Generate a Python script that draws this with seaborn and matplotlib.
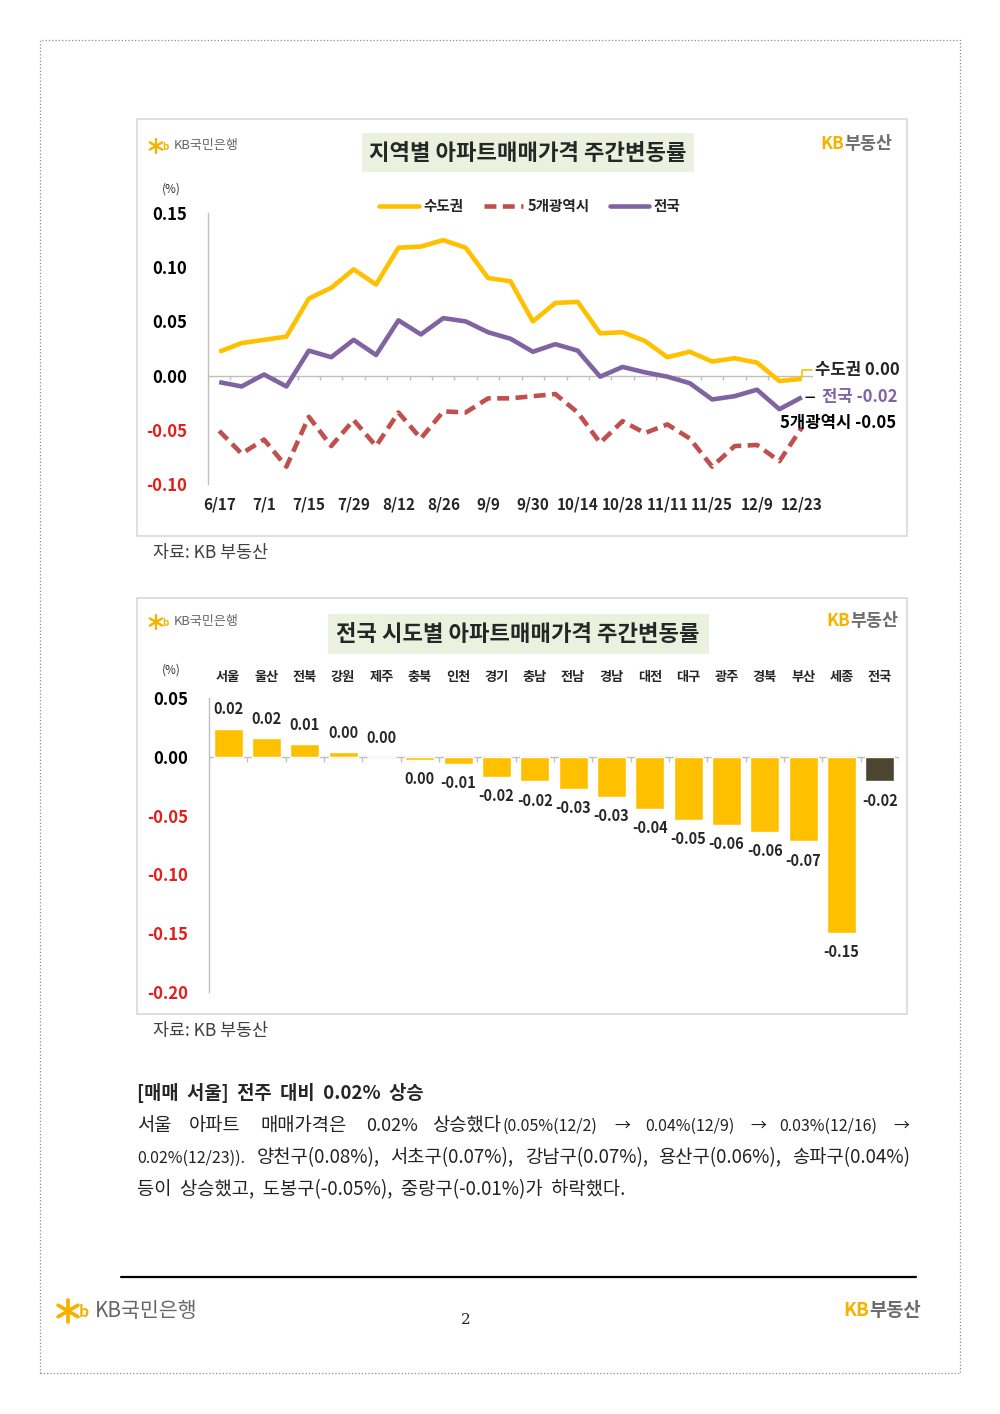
import numpy as np
import pandas as pd
import matplotlib
matplotlib.use("Agg")
import matplotlib.pyplot as plt
import seaborn as sns
from matplotlib.patches import Rectangle
from matplotlib.lines import Line2D
from matplotlib.transforms import blended_transform_factory

sns.set_theme(style="white")
plt.rcParams["font.family"] = ["Noto Sans CJK KR", "DejaVu Sans"]
plt.rcParams["axes.unicode_minus"] = False

# ---- 지역별 아파트매매가격 주간변동률 (%)
weeks = ["6/17", "6/24", "7/1", "7/8", "7/15", "7/22", "7/29", "8/5", "8/12", "8/19", "8/26", "9/2", "9/9",
         "9/23", "9/30", "10/7", "10/14", "10/21", "10/28", "11/4", "11/11", "11/18", "11/25", "12/2",
         "12/9", "12/16", "12/23"]
sudo = [0.022, 0.030, 0.033, 0.036, 0.071, 0.081, 0.098, 0.084, 0.118, 0.119, 0.125, 0.118, 0.090,
        0.087, 0.050, 0.067, 0.068, 0.039, 0.040, 0.032, 0.017, 0.022, 0.013, 0.016, 0.012, -0.005, -0.003]
metro5 = [-0.051, -0.072, -0.059, -0.084, -0.038, -0.065, -0.041, -0.065, -0.034, -0.058, -0.033, -0.034, -0.021,
          -0.021, -0.019, -0.017, -0.034, -0.062, -0.042, -0.053, -0.045, -0.058, -0.084, -0.065, -0.064, -0.079, -0.048]
nation = [-0.006, -0.010, 0.001, -0.010, 0.023, 0.017, 0.033, 0.019, 0.051, 0.038, 0.053, 0.050, 0.040,
          0.034, 0.022, 0.029, 0.023, -0.001, 0.008, 0.003, -0.001, -0.007, -0.022, -0.019, -0.013, -0.031, -0.020]
series_names = ["수도권", "5개광역시", "전국"]
end_labels = ["수도권 0.00", "5개광역시 -0.05", "전국 -0.02"]

# ---- 전국 시도별 아파트매매가격 주간변동률 (%)
regions = ["서울", "울산", "전북", "강원", "제주", "충북", "인천", "경기", "충남", "전남", "경남", "대전",
           "대구", "광주", "경북", "부산", "세종", "전국"]
region_vals = [0.024, 0.016, 0.011, 0.004, 0.000, -0.003, -0.006, -0.017, -0.021, -0.027, -0.034, -0.044,
               -0.054, -0.058, -0.064, -0.072, -0.150, -0.021]

YELLOW = "#FFC000"
RED = "#C0504D"
PURPLE = "#8064A2"
NEG_RED = "#E0201B"
GRID = "#BFBFBF"

W, H = 1000, 1414
fig = plt.figure(figsize=(W / 100, H / 100), dpi=100)
fig.patch.set_facecolor("white")


def fx(x):
    return x / W


def fy(y):
    return 1 - y / H


def ftext(x, y, s, **kw):
    fig.text(fx(x), fy(y), s, **kw)


def box(x0, y0, x1, y1, **kw):
    fig.add_artist(Rectangle((fx(x0), fy(y1)), (x1 - x0) / W, (y1 - y0) / H,
                             transform=fig.transFigure, **kw))


def kb_bank(x, y, size):
    # 별 모양 + KB국민은행
    r = size * 0.6
    for ang in (90, 30, 150):
        a = np.deg2rad(ang)
        fig.add_artist(Line2D([fx(x - r * np.cos(a)), fx(x + r * np.cos(a))],
                              [fy(y + r * np.sin(a)), fy(y - r * np.sin(a))],
                              transform=fig.transFigure, color="#F5B300", lw=size / 7))
    ftext(x + r * 0.9, y + 1, "b", color="#F5B300", fontsize=size * 0.6, ha="left", va="center",
          fontweight="bold")
    ftext(x + r * 2.4, y, "KB국민은행", color="#666666", fontsize=size * 0.78, ha="left", va="center")


def kb_land(x, y, size):
    ftext(x, y, "KB", color="#F5B300", fontsize=size, fontweight="bold", ha="left", va="center")
    ftext(x + size * 1.95, y, "부동산", color="#6D6D6D", fontsize=size, fontweight="bold", ha="left", va="center")


# 페이지 테두리
box(40, 40, 960, 1373, fill=False, ec="#8C8C8C", lw=0.9, ls=":")

# ================= 차트 1 =================
box(137, 119, 907, 536, fill=False, ec="#D9D9D9", lw=1.2)
box(362, 133, 694, 172, fc="#EBF1DE", ec="none")
ftext(528, 153, "지역별 아파트매매가격 주간변동률", fontsize=16, fontweight="bold", ha="center", va="center")
kb_bank(156, 146, 12)
kb_land(820, 144, 12.5)
ftext(171, 189, "(%)", fontsize=8.5, ha="center", va="center", color="#333333")

ax1 = fig.add_axes([fx(208), fy(484), (813 - 208) / W, (484 - 213) / H])
pos = np.arange(len(weeks))
df = pd.DataFrame({
    "pos": np.tile(pos, 3),
    "변동률": sudo + metro5 + nation,
    "지역": np.repeat(series_names, len(weeks)),
})
palette = {"수도권": YELLOW, "5개광역시": RED, "전국": PURPLE}
sns.lineplot(data=df, x="pos", y="변동률", hue="지역", style="지역", palette=palette,
             dashes={"수도권": "", "5개광역시": (2.6, 1.4), "전국": ""},
             linewidth=3.3, legend=False, ax=ax1, sort=False)
for ln in ax1.lines:
    ln.set_solid_capstyle("butt")

ax1.set_xlim(-0.5, len(weeks) - 0.5)
ax1.set_ylim(-0.10, 0.15)
ax1.set_xlabel("")
ax1.set_ylabel("")
for s in ("top", "right", "bottom"):
    ax1.spines[s].set_visible(False)
ax1.spines["left"].set_color(GRID)
ax1.spines["left"].set_linewidth(1)
ax1.axhline(0, color=GRID, lw=1, zorder=0)
ax1.vlines(np.arange(-0.5, len(weeks)), 0, -0.0045, color=GRID, lw=1, zorder=0)

ax1.set_xticks(pos[::2])
ax1.set_xticklabels(weeks[::2], fontsize=11, fontweight="bold")
ax1.tick_params(axis="x", length=0, pad=9)
yt1 = [-0.10, -0.05, 0.0, 0.05, 0.10, 0.15]
ax1.set_yticks(yt1)
ax1.set_yticklabels([f"{v:.2f}" for v in yt1], fontsize=12, fontweight="bold")
ax1.tick_params(axis="y", direction="in", length=3, color=GRID, pad=15)
for lab, v in zip(ax1.get_yticklabels(), yt1):
    lab.set_color(NEG_RED if v < 0 else "black")

# 범례
handles = [Line2D([], [], color=YELLOW, lw=3.3),
           Line2D([], [], color=RED, lw=3.3, dashes=(2.6, 1.4)),
           Line2D([], [], color=PURPLE, lw=3.3)]
fig.legend(handles, series_names, ncol=3, loc="center", bbox_to_anchor=(fx(530), fy(206)),
           frameon=False, handlelength=2.7, handletextpad=0.3, columnspacing=1.4,
           prop={"size": 10.5, "weight": "bold"})

# 끝점 라벨
last = len(weeks) - 1
ax1.annotate(end_labels[0], xy=(last, sudo[-1]), xytext=(9.5, 6.5), textcoords="offset points",
             ha="left", va="center", fontsize=12, fontweight="bold",
             arrowprops=dict(arrowstyle="-", color=YELLOW, lw=1.2, shrinkA=0, shrinkB=1,
                             connectionstyle="angle,angleA=0,angleB=90,rad=0"))
ax1.annotate(end_labels[2], xy=(last, nation[-1]), xytext=(14.5, 0), textcoords="offset points",
             ha="left", va="center", fontsize=12, fontweight="bold", color=PURPLE,
             arrowprops=dict(arrowstyle="-", color="black", lw=1, shrinkA=3, shrinkB=3))
ax1.annotate(end_labels[1], xy=(last, metro5[-1]), xytext=(-15.5, 3), textcoords="offset points",
             ha="left", va="center", fontsize=12, fontweight="bold", color="black")

ftext(153, 553, "자료: KB 부동산", fontsize=12.5, ha="left", va="center", color="#404040")

# ================= 차트 2 =================
box(137, 598, 907, 1014, fill=False, ec="#D9D9D9", lw=1.2)
box(328, 614, 709, 654, fc="#EBF1DE", ec="none")
ftext(518, 634, "전국 시도별 아파트매매가격 주간변동률", fontsize=16, fontweight="bold", ha="center", va="center")
kb_bank(156, 622, 12)
kb_land(826, 621, 12.5)
ftext(171, 670, "(%)", fontsize=8.5, ha="center", va="center", color="#333333")

ax2 = fig.add_axes([fx(209), fy(992), (899 - 209) / W, (992 - 698) / H])
bar_colors = [YELLOW] * (len(regions) - 1) + ["#4D4530"]
sns.barplot(x=regions, y=region_vals, hue=regions, palette=bar_colors, legend=False,
            width=0.76, saturation=1, ax=ax2)
ax2.set_xlim(-0.5, len(regions) - 0.5)
ax2.set_ylim(-0.20, 0.05)
for s in ("top", "right", "bottom"):
    ax2.spines[s].set_visible(False)
ax2.spines["left"].set_color(GRID)
ax2.spines["left"].set_linewidth(1)
ax2.axhline(0, color=GRID, lw=1, zorder=0)
ax2.vlines(np.arange(-0.5, len(regions)), 0, -0.0042, color=GRID, lw=1, zorder=0)

val_labels = [f"{v:.2f}".replace("-0.00", "0.00") for v in region_vals]
for cont, lab in zip(ax2.containers, val_labels):
    ax2.bar_label(cont, labels=[lab], padding=8, fontsize=10.5, fontweight="bold")

ax2.set_xticks([])
trans = blended_transform_factory(ax2.transData, ax2.transAxes)
for i, r in enumerate(regions):
    ax2.text(i, 1 + 21 / 294, r, transform=trans, ha="center", va="center",
             fontsize=9.5, fontweight="bold")
yt2 = [-0.20, -0.15, -0.10, -0.05, 0.0, 0.05]
ax2.set_yticks(yt2)
ax2.set_yticklabels([f"{v:.2f}" for v in yt2], fontsize=12, fontweight="bold")
ax2.tick_params(axis="y", direction="in", length=3, color=GRID, pad=15)
for lab, v in zip(ax2.get_yticklabels(), yt2):
    lab.set_color(NEG_RED if v < 0 else "black")

ftext(153, 1031, "자료: KB 부동산", fontsize=12.5, ha="left", va="center", color="#404040")

# ================= 본문 =================
ftext(137, 1093, "[매매  서울]  전주  대비  0.02%  상승", fontsize=13.5, fontweight="bold", ha="left", va="center")
L, S = 13.5, 11.5
line1 = [(137, "서울", L), (189, "아파트", L), (260, "매매가격은", L), (366, "0.02%", 13),
         (432, "상승했다", L), (503, "(0.05%(12/2)", S), (614, "→", S), (645, "0.04%(12/9)", S),
         (750, "→", S), (779, "0.03%(12/16)", S), (893, "→", S)]
line2 = [(137, "0.02%(12/23)).", S), (257, "양천구(0.08%),", L), (390, "서초구(0.07%),", L),
         (525, "강남구(0.07%),", L), (658, "용산구(0.06%),", L), (792, "송파구(0.04%)", L)]
for x, t, sz in line1:
    ftext(x, 1126, t, fontsize=sz, ha="left", va="center", color="#222222")
for x, t, sz in line2:
    ftext(x, 1158, t, fontsize=sz, ha="left", va="center", color="#222222")
ftext(137, 1190, "등이  상승했고,  도봉구(-0.05%),  중랑구(-0.01%)가  하락했다.", fontsize=L,
      ha="left", va="center", color="#222222")

# ================= 하단 =================
fig.add_artist(Line2D([fx(121), fx(916)], [fy(1277), fy(1277)], transform=fig.transFigure,
                      color="black", lw=1.6))
kb_bank(68, 1311, 19)
ftext(466, 1320, "2", fontsize=11, family="DejaVu Serif", ha="center", va="center")
kb_land(843, 1310, 13.5)

fig.savefig("out.png", dpi=100, facecolor="white")
